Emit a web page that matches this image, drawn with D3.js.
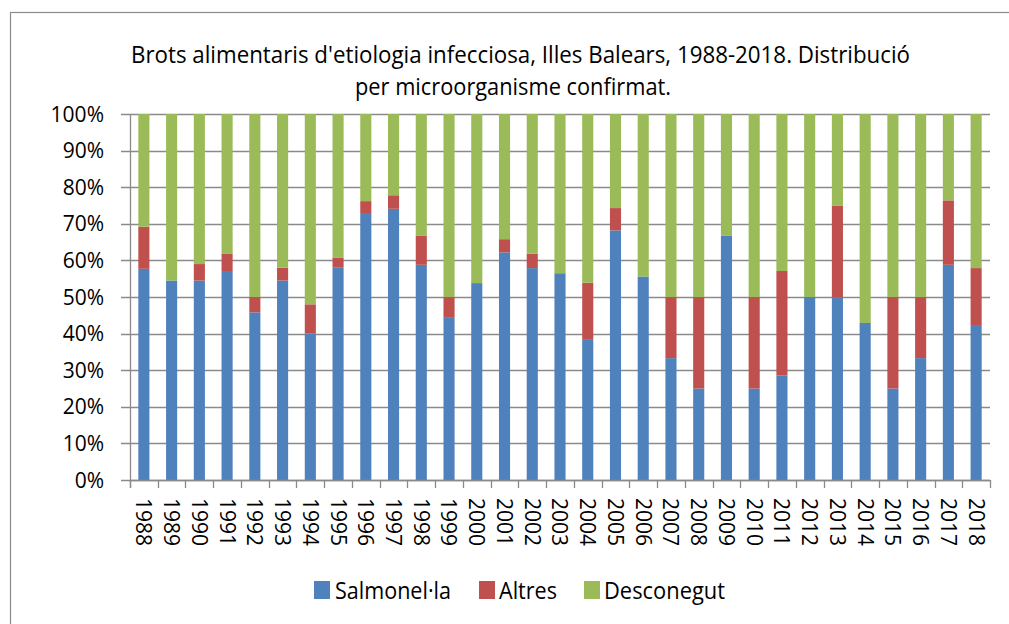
<!DOCTYPE html>
<html>
<head>
<meta charset="utf-8">
<script src="https://d3js.org/d3.v7.min.js"></script>
<style>
  body { margin: 0; background: #fff; }
  text { font-family: "Open Sans", "Noto Sans", sans-serif; fill: #000; }
</style>
</head>
<body>
<div id="chart"></div>
<script>
  // values (percent of confirmed outbreaks per year)
  var years = d3.range(1988, 2019).map(String);
  var salmonella = [57.7, 54.5, 54.5, 57.1, 45.8, 54.5, 40.0, 58.0, 72.7, 74.1, 58.8,
    44.5, 53.8, 62.2, 57.9, 56.5, 38.5, 68.2, 55.6, 33.3, 25.0, 66.7, 25.0, 28.6,
    50.0, 50.0, 42.9, 25.0, 33.3, 58.8, 42.1];
  var altres = [11.5, 0, 4.5, 4.8, 4.2, 3.5, 8.0, 2.8, 3.5, 3.7, 8.0,
    5.5, 0, 3.6, 3.9, 0, 15.4, 6.1, 0, 16.7, 25.0, 0, 25.0, 28.5,
    0, 25.0, 0, 25.0, 16.7, 17.6, 15.8];
  var desconegut = salmonella.map(function (s, i) { return 100 - s - altres[i]; });
  var seriesNames = ["Salmonel·la", "Altres", "Desconegut"];
  var yTicks = d3.range(0, 101, 10);
  var titleLines = ["Brots alimentaris d'etiologia infecciosa, Illes Balears, 1988-2018. Distribució",
    "per microorganisme confirmat."];

  var width = 1009, height = 624,
    plot = { left: 130, right: 990, top: 114, bottom: 480 },
    colors = ["#4F81BD", "#C0504D", "#9BBB59"],
    gridColor = "#8a8a8a";

  var svg = d3.select("#chart").append("svg").attr("width", width).attr("height", height);

  // outer frame (cut by the picture on right and bottom)
  svg.append("rect")
    .attr("x", 10.5).attr("y", 12.5).attr("width", 1020).attr("height", 640)
    .attr("fill", "none").attr("stroke", "#8c8c8c").attr("stroke-width", 1.2);

  // title
  svg.append("text").attr("x", 131).attr("y", 63)
    .attr("font-size", 24).attr("textLength", 779).attr("lengthAdjust", "spacingAndGlyphs")
    .text(titleLines[0]);
  svg.append("text").attr("x", 355).attr("y", 95)
    .attr("font-size", 24).attr("textLength", 316).attr("lengthAdjust", "spacingAndGlyphs")
    .text(titleLines[1]);

  var x = d3.scaleBand().domain(years).range([plot.left, plot.right])
    .paddingInner(0.6).paddingOuter(0.3);
  var y = d3.scaleLinear().domain([0, 100]).range([plot.bottom, plot.top]);

  // gridlines
  svg.append("g").selectAll("line").data(yTicks).enter().append("line")
    .attr("x1", plot.left - 9).attr("x2", plot.right)
    .attr("y1", function (d) { return Math.round(y(d)) + 0.5; })
    .attr("y2", function (d) { return Math.round(y(d)) + 0.5; })
    .attr("stroke", gridColor).attr("stroke-width", 1.3);

  // y axis labels
  var yAxis = d3.axisLeft(y).tickValues(yTicks).tickFormat(function (d) { return d + "%"; })
    .tickSize(0).tickPadding(26);
  var ya = svg.append("g").attr("transform", "translate(" + plot.left + ",0)").call(yAxis);
  ya.select(".domain").remove();
  ya.selectAll("text").attr("font-size", 21).attr("font-family", "'Open Sans', sans-serif")
    .attr("dy", "0.34em");

  // stacked bars
  var rows = years.map(function (yr, i) {
    return { year: yr, "Salmonel·la": salmonella[i], "Altres": altres[i], "Desconegut": desconegut[i] };
  });
  var stack = d3.stack().keys(seriesNames)(rows);
  svg.append("g").selectAll("g").data(stack).enter().append("g")
    .attr("fill", function (d, i) { return colors[i]; })
    .selectAll("rect").data(function (d) { return d; }).enter().append("rect")
    .attr("x", function (d) { return x(d.data.year); })
    .attr("width", x.bandwidth())
    .attr("y", function (d) { return y(d[1]); })
    .attr("height", function (d) { return y(d[0]) - y(d[1]); });

  // axis lines
  svg.append("line").attr("x1", plot.left + 0.5).attr("x2", plot.left + 0.5)
    .attr("y1", plot.top).attr("y2", plot.bottom + 8)
    .attr("stroke", gridColor).attr("stroke-width", 1.3);
  svg.append("line").attr("x1", plot.left).attr("x2", plot.right)
    .attr("y1", plot.bottom + 0.5).attr("y2", plot.bottom + 0.5)
    .attr("stroke", gridColor).attr("stroke-width", 1.3);

  // category boundary ticks
  var step = x.step();
  svg.append("g").selectAll("line").data(d3.range(years.length + 1)).enter().append("line")
    .attr("x1", function (i) { return Math.round(plot.left + i * step) + 0.5; })
    .attr("x2", function (i) { return Math.round(plot.left + i * step) + 0.5; })
    .attr("y1", plot.bottom).attr("y2", plot.bottom + 8)
    .attr("stroke", gridColor).attr("stroke-width", 1.3);

  // x axis labels, rotated
  var xAxis = d3.axisBottom(x).tickSize(0).tickPadding(0);
  var xa = svg.append("g").attr("transform", "translate(0," + plot.bottom + ")").call(xAxis);
  xa.select(".domain").remove();
  xa.selectAll("text")
    .attr("font-size", 21).attr("font-family", "'Open Sans', sans-serif")
    .attr("text-anchor", "start")
    .attr("transform", "translate(0,18) rotate(90)")
    .attr("x", 0).attr("y", 0).attr("dy", "0.36em");

  // legend
  var legendItems = [
    { name: seriesNames[0], sx: 314, tx: 335, tw: 116 },
    { name: seriesNames[1], sx: 479, tx: 499, tw: 58 },
    { name: seriesNames[2], sx: 584, tx: 604, tw: 121 }
  ];
  var lg = svg.append("g").selectAll("g").data(legendItems).enter().append("g");
  lg.append("rect").attr("x", function (d) { return d.sx; }).attr("y", 581)
    .attr("width", 16).attr("height", 18)
    .attr("fill", function (d, i) { return colors[i]; });
  lg.append("text").attr("x", function (d) { return d.tx; }).attr("y", 599)
    .attr("font-size", 24)
    .attr("textLength", function (d) { return d.tw; }).attr("lengthAdjust", "spacingAndGlyphs")
    .text(function (d) { return d.name; });
</script>
</body>
</html>
